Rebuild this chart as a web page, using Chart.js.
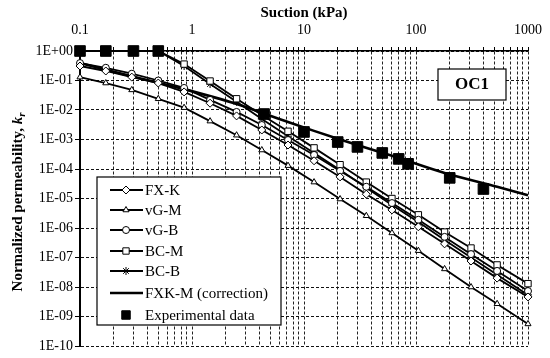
<!DOCTYPE html>
<html>
<head>
<meta charset="utf-8">
<script src="https://cdn.jsdelivr.net/npm/chart.js@4.4.0/dist/chart.umd.min.js"></script>
<style>
  html, body { margin: 0; padding: 0; background: #fff; }
</style>
</head>
<body>
<canvas id="chart" width="550" height="358"></canvas>
<script>
// suction grid (kPa) used by the model curves
const suction = [0.1, 0.17, 0.29, 0.5, 0.85, 1.45, 2.5, 4.2, 7.2, 12.3, 21, 36, 61, 105, 180, 310, 530, 1000];

const fxK = [0.31, 0.21, 0.13, 0.082, 0.041, 0.017, 6.3e-3, 2.1e-3, 6.5e-4, 1.9e-4, 5.4e-5, 1.4e-5, 4.1e-6, 1.1e-6, 2.9e-7, 7.6e-8, 2.0e-8, 4.6e-9];
const vgM = [0.13, 0.082, 0.048, 0.024, 0.012, 4.2e-3, 1.4e-3, 4.4e-4, 1.3e-4, 3.6e-5, 9.6e-6, 2.6e-6, 6.8e-7, 1.7e-7, 4.1e-8, 1.0e-8, 2.7e-9, 5.6e-10];
const vgB = [0.39, 0.27, 0.17, 0.10, 0.056, 0.022, 8.6e-3, 3.1e-3, 9.6e-4, 3.0e-4, 8.6e-5, 2.5e-5, 7.0e-6, 1.9e-6, 5.0e-7, 1.3e-7, 3.5e-8, 7.3e-9];
const bcM = [1, 1, 1, 1, 0.36, 0.096, 0.024, 6.8e-3, 1.9e-3, 5.2e-4, 1.4e-4, 3.6e-5, 1.0e-5, 2.8e-6, 7.3e-7, 2.1e-7, 5.6e-8, 1.3e-8];
const bcB = [1, 1, 1, 1, 0.31, 0.076, 0.019, 5.0e-3, 1.3e-3, 3.5e-4, 9.2e-5, 2.3e-5, 6.0e-6, 1.6e-6, 3.9e-7, 1.0e-7, 2.6e-8, 5.4e-9];

// FXK-M corrected curve
const fxkmSuction = [0.1, 0.29, 0.85, 2.5, 7.2, 21, 61, 180, 530, 1000];
const fxkM = [0.39, 0.14, 0.051, 0.016, 3.9e-3, 1.0e-3, 2.8e-4, 7.3e-5, 2.5e-5, 1.3e-5];

// measured points
const expSuction = [0.1, 0.17, 0.3, 0.5, 4.4, 10, 20, 30, 50, 70, 85, 200, 400];
const expKr = [1, 1, 1, 1, 7.3e-3, 1.8e-3, 8.2e-4, 5.6e-4, 3.5e-4, 2.2e-4, 1.5e-4, 5e-5, 2.1e-5];

const xTicks = [0.1, 1, 10, 100, 1000];
const yExponents = [0, -1, -2, -3, -4, -5, -6, -7, -8, -9, -10];

const SERIF = '"Liberation Serif", "Times New Roman", serif';

const pts = (xs, ys) => xs.map((x, i) => ({ x: x, y: ys[i] }));

const modelSet = (label, ys, style, extra) => Object.assign({
    label: label,
    data: pts(suction, ys),
    borderColor: '#000',
    borderWidth: 1.8,
    pointStyle: style,
    pointRadius: 3.5,
    pointBackgroundColor: '#fff',
    pointBorderColor: '#000',
    pointBorderWidth: 1,
    tension: 0,
    clip: 12
}, extra || {});

const datasets = [
    modelSet('FX-K', fxK, 'rectRot', { pointRadius: 4 }),
    modelSet('vG-M', vgM, 'triangle'),
    modelSet('vG-B', vgB, 'circle'),
    modelSet('BC-M', bcM, 'rect', { pointRadius: 4.5 }),
    modelSet('BC-B', bcB, 'star', { pointRadius: 4 }),
    {
        label: 'FXK-M (correction)',
        data: pts(fxkmSuction, fxkM),
        borderColor: '#000',
        borderWidth: 2.6,
        pointRadius: 0,
        pointStyle: 'line',
        tension: 0.3,
        clip: 12
    },
    {
        label: 'Experimental data',
        data: pts(expSuction, expKr),
        showLine: false,
        pointStyle: 'rect',
        pointRadius: 7.5,
        pointBackgroundColor: '#000',
        pointBorderColor: '#000',
        pointBorderWidth: 1,
        order: -1,
        clip: 12
    }
];

// legend box drawn inside the plot area
const boxLegend = {
    id: 'boxLegend',
    afterDatasetsDraw(chart) {
        const ctx = chart.ctx;
        const x0 = 97, y0 = 177, w = 184, h = 148;
        ctx.save();
        ctx.fillStyle = '#fff';
        ctx.fillRect(x0, y0, w, h);
        ctx.strokeStyle = '#000';
        ctx.lineWidth = 1.2;
        ctx.strokeRect(x0, y0, w, h);
        ctx.font = '15px ' + SERIF;
        ctx.textBaseline = 'middle';
        const rows = [190, 210, 230, 251, 271, 293, 315];
        chart.data.datasets.forEach((ds, i) => {
            const y = rows[i];
            if (ds.showLine !== false) {
                ctx.strokeStyle = '#000';
                ctx.lineWidth = ds.borderWidth;
                ctx.beginPath();
                ctx.moveTo(110, y);
                ctx.lineTo(143, y);
                ctx.stroke();
            }
            if (ds.pointRadius > 0) {
                ctx.fillStyle = ds.pointBackgroundColor;
                ctx.strokeStyle = '#000';
                ctx.lineWidth = 1;
                const r = ds.showLine === false ? 6 : ds.pointRadius;
                Chart.helpers.drawPoint(ctx, { pointStyle: ds.pointStyle, radius: r, rotation: 0, borderWidth: 1 }, 126, y);
            }
            ctx.fillStyle = '#000';
            ctx.textAlign = 'left';
            ctx.fillText(ds.label, 145, y + 1);
        });
        // sample label box
        ctx.fillStyle = '#fff';
        ctx.fillRect(438, 69, 68, 31);
        ctx.lineWidth = 1.2;
        ctx.strokeRect(438, 69, 68, 31);
        ctx.fillStyle = '#000';
        ctx.font = 'bold 17px ' + SERIF;
        ctx.textAlign = 'center';
        ctx.fillText('OC1', 472, 85);
        ctx.restore();
    }
};

// y axis title with italic k and subscript r
const yTitle = {
    id: 'yTitle',
    afterDraw(chart) {
        const ctx = chart.ctx;
        const main = 'Normalized permeability, ';
        ctx.save();
        ctx.translate(18, 202);
        ctx.rotate(-Math.PI / 2);
        ctx.fillStyle = '#000';
        ctx.textBaseline = 'middle';
        ctx.textAlign = 'left';
        ctx.font = 'bold 15px ' + SERIF;
        const w1 = ctx.measureText(main).width;
        ctx.font = 'bold italic 15px ' + SERIF;
        const w2 = ctx.measureText('k').width;
        ctx.font = 'bold italic 11px ' + SERIF;
        const w3 = ctx.measureText('r').width;
        let x = -(w1 + w2 + w3) / 2;
        ctx.font = 'bold 15px ' + SERIF;
        ctx.fillText(main, x, 0);
        x += w1;
        ctx.font = 'bold italic 15px ' + SERIF;
        ctx.fillText('k', x, 0);
        x += w2;
        ctx.font = 'bold italic 11px ' + SERIF;
        ctx.fillText('r', x, 4);
        ctx.restore();
    }
};

const whiteBg = {
    id: 'whiteBg',
    beforeDraw(chart) {
        const ctx = chart.ctx;
        ctx.save();
        ctx.fillStyle = '#fff';
        ctx.fillRect(0, 0, chart.width, chart.height);
        ctx.restore();
    }
};

new Chart(document.getElementById('chart'), {
    type: 'line',
    data: { datasets: datasets },
    plugins: [whiteBg, boxLegend, yTitle],
    options: {
        responsive: false,
        animation: false,
        devicePixelRatio: 1,
        layout: { padding: { left: 0, top: 0, right: 16, bottom: 12 } },
        plugins: { legend: { display: false }, tooltip: { enabled: false } },
        scales: {
            x: {
                type: 'logarithmic',
                position: 'top',
                min: 0.1,
                max: 1000,
                afterFit: (s) => { s.height = 51; },
                afterBuildTicks: (s) => {
                    const t = [];
                    xTicks.slice(0, -1).forEach(d => {
                        for (let k = 1; k <= 9; k++) t.push({ value: +(d * k).toPrecision(3) });
                    });
                    t.push({ value: 1000 });
                    s.ticks = t;
                },
                ticks: {
                    autoSkip: false,
                    maxRotation: 0,
                    padding: 8,
                    color: '#000',
                    font: { family: SERIF, size: 14 },
                    callback: (v) => xTicks.includes(v) ? String(v) : ''
                },
                grid: {
                    color: '#222',
                    lineWidth: 1,
                    tickLength: 4,
                    tickColor: '#000'
                },
                border: { display: true, color: '#000', width: 1.5, dash: [3, 2] },
                title: {
                    display: true,
                    text: 'Suction (kPa)',
                    color: '#000',
                    font: { family: SERIF, size: 15, weight: 'bold' },
                    padding: { top: 4, bottom: 0 }
                }
            },
            y: {
                type: 'logarithmic',
                min: 1e-10,
                max: 1,
                afterFit: (s) => { s.width = 80; },
                afterBuildTicks: (s) => {
                    s.ticks = yExponents.map(e => ({ value: Math.pow(10, e) }));
                },
                ticks: {
                    autoSkip: false,
                    padding: 2,
                    color: '#000',
                    font: { family: SERIF, size: 14 },
                    callback: (v) => {
                        const e = Math.round(Math.log10(v));
                        return '1E' + (e < 0 ? '-' : '+') + String(Math.abs(e)).padStart(2, '0');
                    }
                },
                grid: {
                    color: '#111',
                    lineWidth: (c) => (c.index === 0 ? 2 : 1),
                    tickLength: 5,
                    tickColor: '#000'
                },
                border: { display: true, color: '#000', width: 2, dash: [3, 2] }
            }
        }
    }
});
</script>
</body>
</html>
